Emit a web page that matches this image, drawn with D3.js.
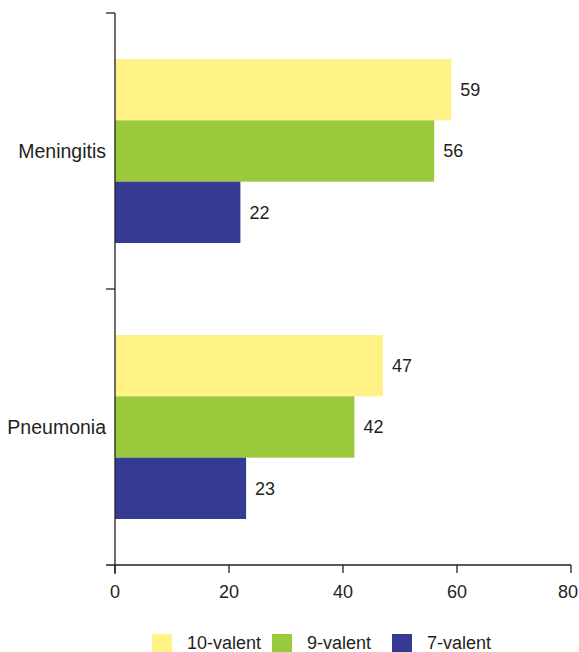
<!DOCTYPE html>
<html>
<head>
<meta charset="utf-8">
<script src="https://cdn.jsdelivr.net/npm/d3@7"></script>
<style>
  html, body { margin: 0; padding: 0; background: #fff; }
  svg text { font-family: "Liberation Sans", Arial, Helvetica, sans-serif; fill: #231f20; }
</style>
</head>
<body>
<svg id="chart" width="579" height="652"></svg>
<script>
// Categories, series and their values
const categories = ["Meningitis", "Pneumonia"];
const seriesNames = ["10-valent", "9-valent", "7-valent"];
const values10 = [59, 47];
const values9 = [56, 42];
const values7 = [22, 23];
const xTicks = [0, 20, 40, 60, 80];
const seriesColors = ["#fff387", "#9aca3c", "#353a93"];

const seriesValues = [values10, values9, values7];
const rows = categories.map((c, i) => ({
  category: c,
  bars: seriesNames.map((s, j) => ({ series: s, value: seriesValues[j][i], color: seriesColors[j] }))
}));

const width = 579;
const svg = d3.select("#chart");
const plotLeft = 115, plotRight = 571, plotTop = 13, plotBottom = 565;

const x = d3.scaleLinear().domain([0, 80]).range([plotLeft, plotRight]);
const y = d3.scaleBand().domain(categories).range([plotTop, plotBottom]).padding(0);
const yInner = d3.scaleBand().domain(seriesNames)
  .range([46, y.bandwidth() - 46]).padding(0);

// Bars
const groups = svg.append("g").selectAll("g").data(rows).join("g")
  .attr("transform", d => `translate(0,${y(d.category)})`);

groups.selectAll("rect").data(d => d.bars).join("rect")
  .attr("x", x(0))
  .attr("y", d => yInner(d.series))
  .attr("width", d => x(d.value) - x(0))
  .attr("height", yInner.bandwidth())
  .attr("fill", d => d.color);

groups.selectAll("text.val").data(d => d.bars).join("text")
  .attr("class", "val")
  .attr("x", d => x(d.value) + 9)
  .attr("y", d => yInner(d.series) + yInner.bandwidth() / 2)
  .attr("dy", "0.36em")
  .attr("font-size", 18)
  .text(d => d.value);

// X axis
const xAxis = svg.append("g")
  .attr("transform", `translate(0,${plotBottom})`);
xAxis.append("line")
  .attr("x1", plotLeft - 9).attr("x2", plotRight)
  .attr("stroke", "#231f20").attr("stroke-width", 1.3);
xAxis.selectAll("line.tick").data(xTicks).join("line")
  .attr("class", "tick")
  .attr("x1", d => x(d)).attr("x2", d => x(d))
  .attr("y1", 0).attr("y2", 8)
  .attr("stroke", "#231f20").attr("stroke-width", 1.3);
xAxis.selectAll("text").data(xTicks).join("text")
  .attr("y", 27)
  .attr("dy", "0.36em")
  .attr("text-anchor", "middle")
  .attr("font-size", 18)
  .text(d => d)
  .attr("x", function (d) {
    // keep the last label inside the drawing area
    const half = this.getComputedTextLength() / 2;
    return Math.min(x(d), width - 1 - half);
  });

// Y axis
const yAxis = svg.append("g");
yAxis.append("line")
  .attr("x1", plotLeft).attr("x2", plotLeft)
  .attr("y1", plotTop).attr("y2", plotBottom + 9)
  .attr("stroke", "#231f20").attr("stroke-width", 1.3);
const yBounds = [plotTop, y(categories[1])];
yAxis.selectAll("line.tick").data(yBounds).join("line")
  .attr("class", "tick")
  .attr("x1", plotLeft - 9).attr("x2", plotLeft)
  .attr("y1", d => d).attr("y2", d => d)
  .attr("stroke", "#231f20").attr("stroke-width", 1.3);
yAxis.selectAll("text").data(categories).join("text")
  .attr("x", plotLeft - 9)
  .attr("y", d => y(d) + 46 + yInner.bandwidth() * 1.5)
  .attr("dy", "0.36em")
  .attr("text-anchor", "end")
  .attr("font-size", 19.5)
  .text(d => d);

// Legend
const legendX = [152, 272, 392];
const legend = svg.append("g").selectAll("g").data(seriesNames).join("g")
  .attr("transform", (d, i) => `translate(${legendX[i]},634)`);
legend.append("rect")
  .attr("width", 20).attr("height", 20)
  .attr("fill", (d, i) => seriesColors[i]);
legend.append("text")
  .attr("x", 35).attr("y", 9)
  .attr("dy", "0.36em")
  .attr("font-size", 18)
  .text(d => d);
</script>
</body>
</html>
